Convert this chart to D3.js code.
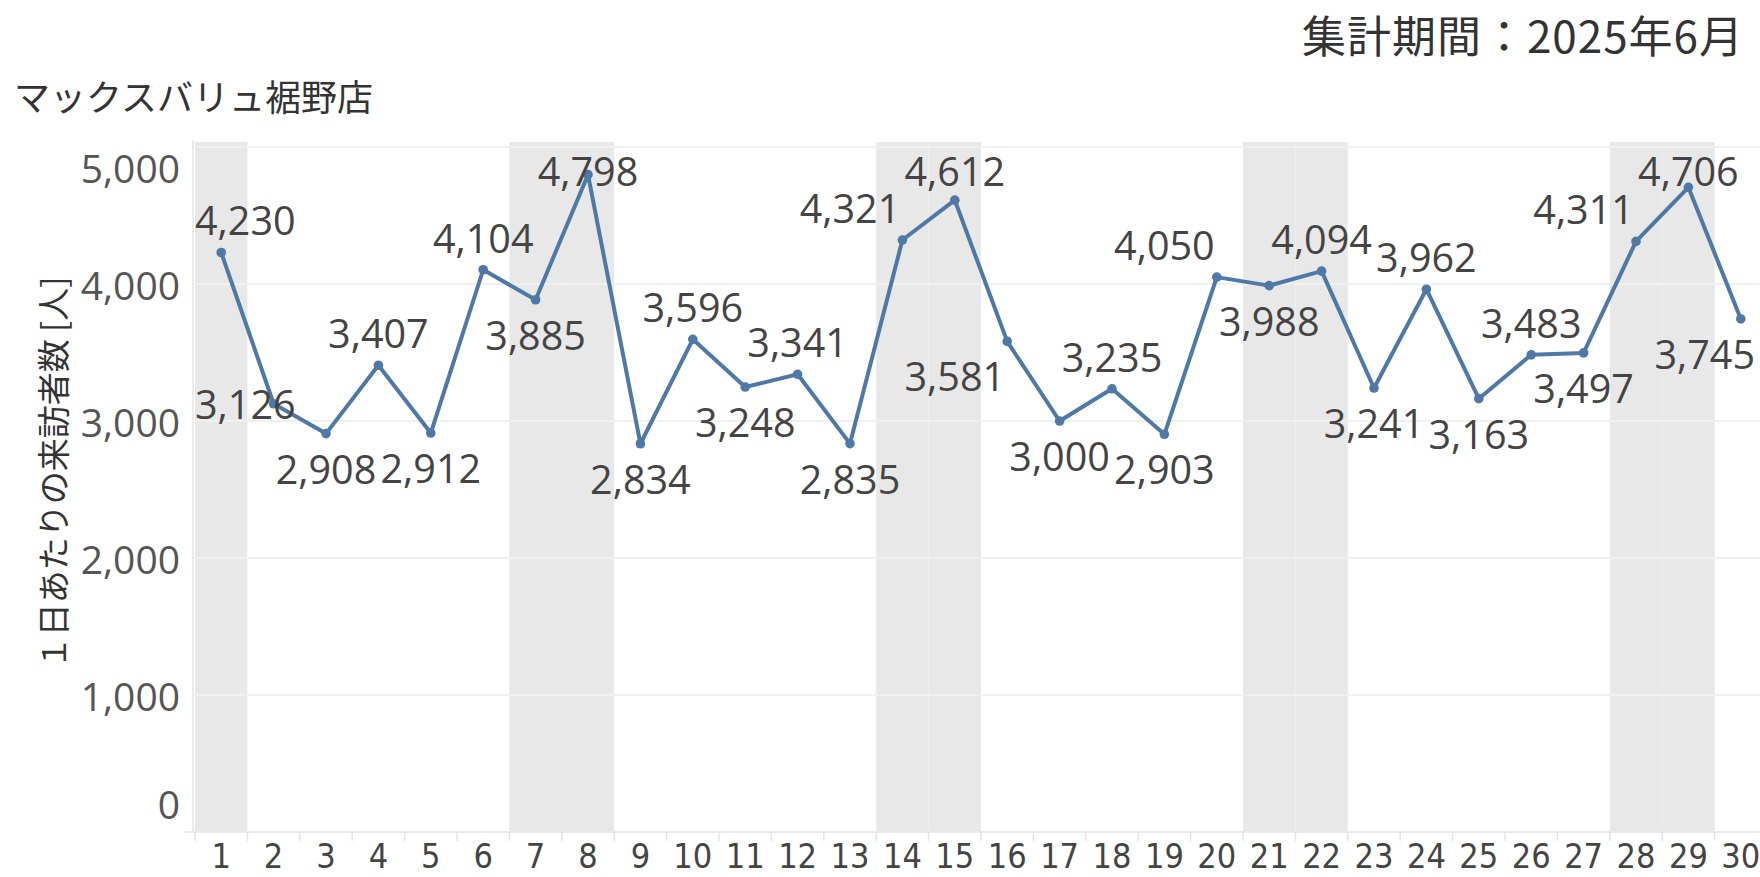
<!DOCTYPE html>
<html>
<head>
<meta charset="utf-8">
<script src="https://cdn.jsdelivr.net/npm/d3@7"></script>
<style>
  body { margin: 0; background: #fff; }
  svg { display: block; }
</style>
</head>
<body>
<div id="chart"></div>
<script>
// 日別の来訪者数（2025年6月）
const days = ['1','2','3','4','5','6','7','8','9','10','11','12','13','14','15',
              '16','17','18','19','20','21','22','23','24','25','26','27','28','29','30'];
const visitors = [4230, 3126, 2908, 3407, 2912, 4104, 3885, 4798, 2834, 3596,
                  3248, 3341, 2835, 4321, 4612, 3581, 3000, 3235, 2903, 4050,
                  3988, 4094, 3241, 3962, 3163, 3483, 3497, 4311, 4706, 3745];
const weekendDays = ['1','7','8','14','15','21','22','28','29'];
const yTicks = [0, 1000, 2000, 3000, 4000, 5000];

const titleText = 'マックスバリュ裾野店';
const periodText = '集計期間：2025年6月';
const yTitle = '１日あたりの来訪者数 [人]';

// ラベルの置き方 a=上, b=下, m=横 / shift=列単位のずれ
const labelPos = ['a','m','b','a','b','a','b','a','b','a','b','a','b','a','a',
                  'b','b','a','b','a','b','a','b','a','b','a','b','a','a','b'];
const labelShift = [0,-1,0,0,0,0,0,0,0,0,0,0,0,-1,0,-1,0,0,0,-1,0,0,0,0,0,0,0,-1,0,0];

const W = 1760, H = 877;
const plot = {left: 195, right: 1767, top: 142, bottom: 832};
const numFont = '"Open Sans", "DejaVu Sans", sans-serif';
const jpFont = '"Noto Sans CJK JP", "Noto Sans", sans-serif';

const data = days.map((d, i) => ({day: d, v: visitors[i], pos: labelPos[i], shift: labelShift[i]}));

const svg = d3.select('#chart').append('svg')
    .attr('width', W)
    .attr('height', H);

const x = d3.scaleBand()
    .domain(days)
    .range([plot.left, plot.right]);

const y = d3.scaleLinear()
    .domain([0, 5000])
    .range([832, 147]);

const bw = x.bandwidth();

// 土日の背景
svg.append('g')
  .selectAll('rect')
  .data(weekendDays)
  .enter().append('rect')
    .attr('x', d => x(d))
    .attr('y', plot.top)
    .attr('width', bw)
    .attr('height', plot.bottom - plot.top)
    .attr('fill', '#e8e8e8');

// グリッド線
svg.append('g')
  .selectAll('line')
  .data(yTicks.filter(d => d > 0))
  .enter().append('line')
    .attr('x1', plot.left - 2)
    .attr('x2', W)
    .attr('y1', d => y(d))
    .attr('y2', d => y(d))
    .attr('stroke', '#f0f0f0')
    .attr('stroke-width', 2);

// 軸の線
svg.append('line')
    .attr('x1', plot.left - 2).attr('x2', plot.left - 2)
    .attr('y1', plot.top - 2).attr('y2', plot.bottom)
    .attr('stroke', '#ececec').attr('stroke-width', 2);
svg.append('line')
    .attr('x1', 185).attr('x2', W)
    .attr('y1', plot.bottom).attr('y2', plot.bottom)
    .attr('stroke', '#eaeaea').attr('stroke-width', 2);

// x軸の目盛り（列の境目）
svg.append('g')
  .selectAll('line')
  .data(days)
  .enter().append('line')
    .attr('x1', d => x(d))
    .attr('x2', d => x(d))
    .attr('y1', plot.bottom)
    .attr('y2', plot.bottom + 9)
    .attr('stroke', '#e4e4e4')
    .attr('stroke-width', 1.5);

// y軸
const yAxis = svg.append('g')
    .attr('transform', 'translate(180,0)')
    .call(d3.axisLeft(y).tickValues(yTicks).tickSize(0).tickPadding(0).tickFormat(d3.format(',')));
yAxis.select('.domain').remove();
yAxis.selectAll('text')
    .attr('font-family', numFont)
    .attr('font-size', 39)
    .attr('fill', '#555')
    .attr('dy', null)
    .attr('dominant-baseline', 'central')
    .attr('y', d => d === 5000 ? 20 : (d === 0 ? -29 : 0));

// x軸
const xAxis = svg.append('g')
    .attr('transform', `translate(0,${plot.bottom})`)
    .call(d3.axisBottom(x).tickSize(0));
xAxis.select('.domain').remove();
xAxis.selectAll('text')
    .attr('font-family', '"Liberation Sans Narrow", "DejaVu Sans Condensed", sans-serif')
    .attr('font-size', 34)
    .attr('fill', '#444')
    .attr('dy', null)
    .attr('y', 36);

// 折れ線
const line = d3.line()
    .x(d => x(d.day) + bw / 2)
    .y(d => y(d.v));

svg.append('path')
    .datum(data)
    .attr('fill', 'none')
    .attr('stroke', '#4e79a7')
    .attr('stroke-width', 4)
    .attr('stroke-linejoin', 'round')
    .attr('d', line);

svg.append('g')
  .selectAll('circle')
  .data(data)
  .enter().append('circle')
    .attr('cx', d => x(d.day) + bw / 2)
    .attr('cy', d => y(d.v))
    .attr('r', 4.8)
    .attr('fill', '#4e79a7');

// 値ラベル
const fmt = d3.format(',');
const labels = svg.append('g')
  .selectAll('text')
  .data(data)
  .enter().append('text')
    .attr('font-family', numFont)
    .attr('font-size', 39.5)
    .attr('fill', '#444')
    .attr('text-anchor', 'middle')
    .attr('dominant-baseline', 'central')
    .text(d => fmt(d.v));

labels.each(function(d) {
  const w = this.getComputedTextLength();
  let cx = x(d.day) + bw / 2 + d.shift * bw;
  cx = Math.max(plot.left + w / 2, Math.min(W - 5 - w / 2, cx));
  let cy = y(d.v);
  if (d.pos === 'a') cy -= 32;
  else if (d.pos === 'b') cy += 35;
  cy = Math.max(171, cy);
  d3.select(this).attr('x', cx).attr('y', cy);
});

// タイトル類
svg.append('text')
    .attr('x', 14)
    .attr('y', 95)
    .attr('dominant-baseline', 'central')
    .attr('font-family', jpFont)
    .attr('font-size', 36)
    .attr('fill', '#333')
    .text(titleText);

svg.append('text')
    .attr('x', 1744)
    .attr('y', 34)
    .attr('text-anchor', 'end')
    .attr('dominant-baseline', 'central')
    .attr('font-family', jpFont)
    .attr('font-size', 44)
    .attr('letter-spacing', 1)
    .attr('fill', '#333')
    .text(periodText);

svg.append('text')
    .attr('transform', 'translate(52,473) rotate(-90)')
    .attr('text-anchor', 'middle')
    .attr('dominant-baseline', 'central')
    .attr('font-family', jpFont)
    .attr('font-size', 33)
    .attr('fill', '#333')
    .text(yTitle);
</script>
</body>
</html>
